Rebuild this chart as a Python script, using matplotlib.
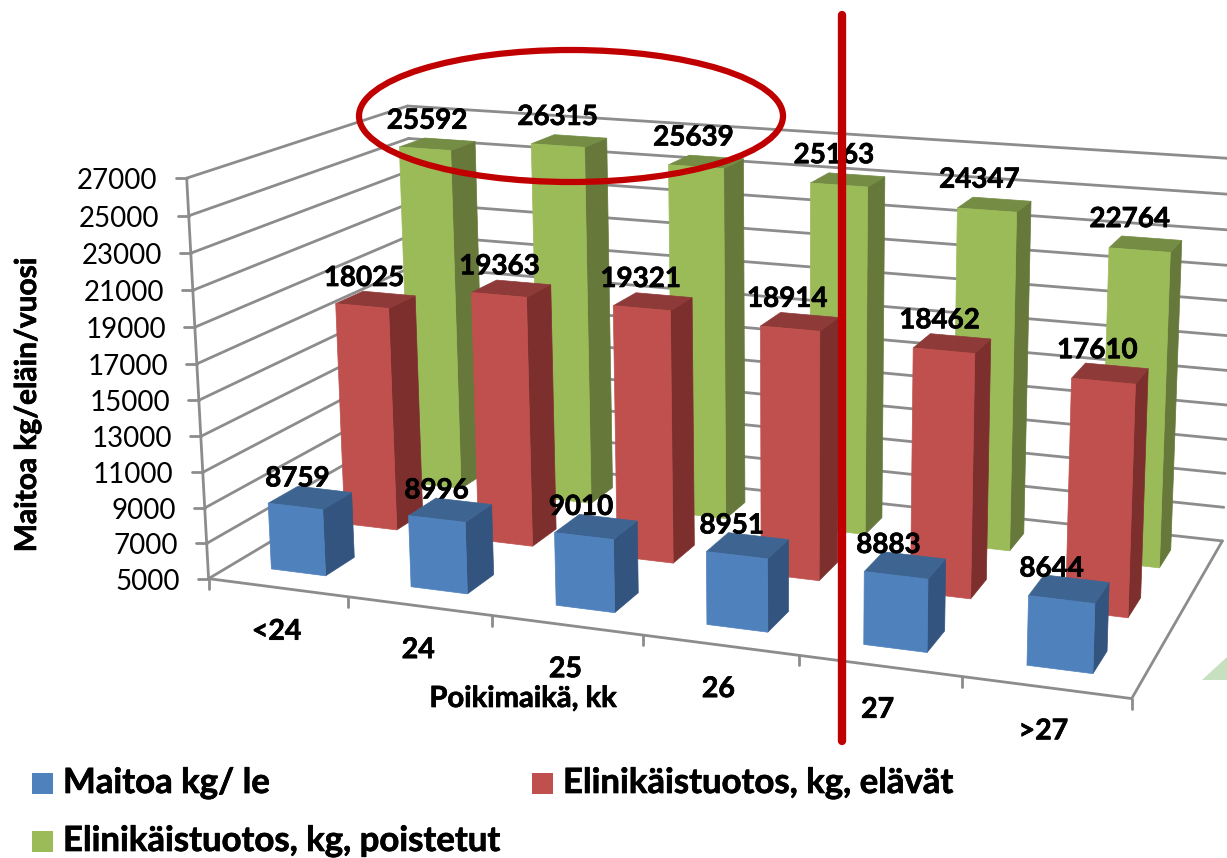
import numpy as np
import matplotlib
matplotlib.use("Agg")
import matplotlib.pyplot as plt
import matplotlib.patheffects as pe
from matplotlib.patches import Polygon, Ellipse, Rectangle

plt.rcParams['font.family'] = ['Lato', 'DejaVu Sans']

categories = ['<24', '24', '25', '26', '27', '>27']
milk = [8759, 8996, 9010, 8951, 8883, 8644]
alive = [18025, 19363, 19321, 18914, 18462, 17610]
culled = [25592, 26315, 25639, 25163, 24347, 22764]
series_names = ['Maitoa kg/ le', 'Elinikäistuotos, kg, elävät', 'Elinikäistuotos, kg, poistetut']
y_ticks = [5000, 7000, 9000, 11000, 13000, 15000, 17000, 19000, 21000, 23000, 25000, 27000]
y_title = 'Maitoa kg/eläin/vuosi'
x_title = 'Poikimaikä, kk'

FRONT = ['#4F81BD', '#C0504D', '#9BBB59']
SIDE = ['#33547F', '#7D2F2E', '#66783A']
TOP = ['#3E6592', '#8E3A38', '#748C43']
GRID = '#8C8C8C'
HEAVY = [pe.withStroke(linewidth=0.5, foreground='black')]
LABEL_DRIFT = [-2.4, -1.6, -2.4]

ZMIN, ZMAX = y_ticks[0], y_ticks[-1]
NX, NY = len(categories), 3

# Camera calibration: scene corners -> canvas pixels
world = np.array([(0, 0, ZMIN), (0, 0, ZMAX), (NX, 0, ZMIN), (NX, NY, ZMIN),
                  (0, NY, ZMIN), (0, NY, ZMAX), (NX, NY, ZMAX)], float)
pix = np.array([(208, 581), (187, 178), (1132, 696), (1222, 544),
                (420, 450), (407, 107), (1238, 158)], float)
zscale = 1.0 / (ZMAX - ZMIN)
rows = []
for (X, Y, Z), (u, v) in zip(world, pix):
    Z = (Z - ZMIN) * zscale
    rows.append([X, Y, Z, 1, 0, 0, 0, 0, -u * X, -u * Y, -u * Z, -u])
    rows.append([0, 0, 0, 0, X, Y, Z, 1, -v * X, -v * Y, -v * Z, -v])
P = np.linalg.svd(np.array(rows))[2][-1].reshape(3, 4)


def proj(x, y, z):
    h = P @ np.array([x, y, (z - ZMIN) * zscale, 1.0])
    return h[0] / h[2], h[1] / h[2]


fig = plt.figure(figsize=(12.27, 8.58), dpi=100)
ax = fig.add_axes([0, 0, 1, 1])
ax.set_xlim(0, 1227)
ax.set_ylim(858, 0)
ax.axis('off')


def seg(a, b, lw=2.0, z=1):
    ax.plot([a[0], b[0]], [a[1], b[1]], color=GRID, lw=lw, zorder=z, solid_capstyle='round', clip_on=True)


# walls and floor
for v in y_ticks:
    seg(proj(0, 0, v), proj(0, NY, v))
    seg(proj(0, NY, v), proj(NX, NY, v))
    p = proj(0, 0, v)
    seg((p[0] - 11, p[1]), p)
    ax.text(p[0] - 29, p[1] + 3, f'{v}', ha='right', va='center', fontsize=20, color='black')
seg(proj(0, 0, ZMIN), proj(0, 0, ZMAX))
seg(proj(0, 0, ZMIN), proj(NX, 0, ZMIN))
seg(proj(NX, 0, ZMIN), proj(NX, NY, ZMIN))
for i in range(NX + 1):
    p = proj(i, 0, ZMIN)
    seg(p, (p[0], p[1] + 10))

# bars
BW, BD = 0.395, 0.39
z0 = 2
for s, vals in reversed(list(enumerate([milk, alive, culled]))):
    for i, v in enumerate(vals):
        cx = i + 0.48 + 0.006 * i
        x0, x1 = cx - BW / 2, cx + BW / 2
        y0, y1 = s + 0.5 - BD / 2, s + 0.5 + BD / 2
        side = [proj(x1, y0, ZMIN), proj(x1, y1, ZMIN), proj(x1, y1, v), proj(x1, y0, v)]
        top = [proj(x0, y0, v), proj(x1, y0, v), proj(x1, y1, v), proj(x0, y1, v)]
        front = [proj(x0, y0, ZMIN), proj(x1, y0, ZMIN), proj(x1, y0, v), proj(x0, y0, v)]
        for poly, c in ((side, SIDE[s]), (top, TOP[s]), (front, FRONT[s])):
            ax.add_patch(Polygon(poly, closed=True, fc=c, ec=c, lw=0.5, zorder=z0))
            z0 += 0.001
        tx, ty = proj(cx, y0, v)
        ax.text(tx + 2 + LABEL_DRIFT[s] * i, ty - 28 - 0.6 * i, f'{v}', ha='center', va='center', fontsize=20,
                fontweight='bold', color='black', zorder=50, path_effects=HEAVY)

# category labels
for i, c in enumerate(categories):
    p = proj(i + 0.45, 0, ZMIN)
    ax.text(p[0] + 6, p[1] + 45, c, ha='center', va='center', fontsize=20.5, fontweight='bold', zorder=50,
            path_effects=HEAVY)

ax.text(523, 699, x_title, ha='center', va='center', fontsize=21, fontweight='bold', zorder=50, path_effects=HEAVY)
ax.text(27, 405, y_title, ha='center', va='center', rotation=90, fontsize=21.5, fontweight='bold', zorder=50,
        path_effects=HEAVY)

# legend
legend_pos = [(32, 783), (532, 783), (32, 841)]
for (lx, ly), name, c in zip(legend_pos, series_names, FRONT):
    ax.add_patch(Rectangle((lx, ly - 10.5), 21, 21, fc=c, ec='none', zorder=50))
    ax.text(lx + 31, ly, name, ha='left', va='center', fontsize=25, fontweight='bold', zorder=50, path_effects=HEAVY)

# annotations
ax.plot([842, 842], [15, 741], color='#C00000', lw=6, solid_capstyle='round', zorder=60)
ax.add_patch(Ellipse((571, 116), 424, 132, fc='none', ec='#C00000', lw=4.5, zorder=60))
ax.add_patch(Polygon([(1202, 680), (1227, 657), (1227, 680)], closed=True, fc='#C6E0C0', ec='none', zorder=0))

fig.savefig('out.png', dpi=100)
